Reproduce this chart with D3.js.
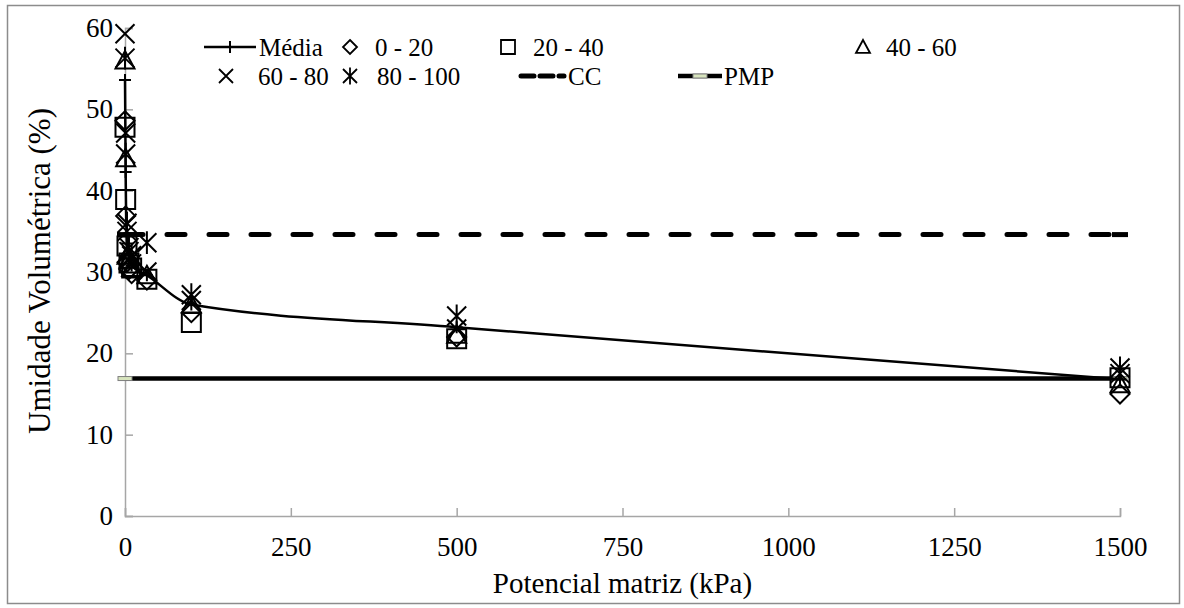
<!DOCTYPE html>
<html>
<head>
<meta charset="utf-8">
<script src="https://cdn.jsdelivr.net/npm/d3@7"></script>
</head>
<body style="margin:0">
<div id="fig"></div>
<script>
// potencial matriz (kPa)
const potencial = [0, 1, 3, 6, 10, 33, 100, 500, 1500];

// umidade volumetrica (%) per camada
const camada0_20   = [48.6, 36.9, 31.2, 30.3, 29.8, 29.0, 25.0, 22.0, 15.0];
const camada20_40  = [47.8, 38.9, 33.2, 31.1, 30.5, 29.1, 23.8, 21.8, 17.0];
const camada40_60  = [56.0, 44.0, 32.0, 31.5, 30.5, 29.6, 26.0, 22.3, 16.2];
const camada60_80  = [59.3, 47.1, 35.0, 32.5, 31.0, 30.0, 26.5, 23.0, 17.5];
const camada80_100 = [56.3, 44.5, 36.0, 33.0, 32.0, 33.6, 27.2, 24.6, 18.2];
const media        = [53.6, 42.3, 33.5, 31.7, 30.8, 29.6, 26.0, 23.2, 16.8];

// capacidade de campo / ponto de murcha
const limitesX = [0, 1500];
const cc  = [34.6, 34.6];
const pmp = [16.9, 16.9];

const xTicks = [0, 250, 500, 750, 1000, 1250, 1500];
const yTicks = [0, 10, 20, 30, 40, 50, 60];

const width = 1184, height = 608;
const margin = {top: 28, right: 64, bottom: 92, left: 125};

// serif text helper
function serif(sel, size) {
  return sel.attr("font-family", "Liberation Serif").attr("font-size", size);
}

const svg = d3.select("#fig").append("svg")
  .attr("width", width)
  .attr("height", height);

// chart frame
svg.append("rect")
  .attr("x", 7.5).attr("y", 5.5)
  .attr("width", 1172).attr("height", 598)
  .attr("fill", "none").attr("stroke", "#8c8c8c").attr("stroke-width", 1.5);

const x = d3.scaleLinear().domain([0, 1500]).range([margin.left, width - margin.right]);
const y = d3.scaleLinear().domain([0, 60]).range([height - margin.bottom, margin.top]);

// axes (gray, ticks inside)
const xAxis = svg.append("g")
  .attr("transform", "translate(0," + y(0) + ")")
  .call(d3.axisBottom(x).tickValues(xTicks).tickFormat(d3.format("d")).tickSize(-8).tickPadding(21));
const yAxis = svg.append("g")
  .attr("transform", "translate(" + x(0) + ",0)")
  .call(d3.axisLeft(y).tickValues(yTicks).tickFormat(d3.format("d")).tickSize(-8).tickPadding(12));
[xAxis, yAxis].forEach(function(g) {
  g.attr("font-family", "Liberation Serif").attr("font-size", 27);
  g.select(".domain").attr("stroke", "#a6a6a6").attr("stroke-width", 1.5);
  g.selectAll(".tick line").attr("stroke", "#a6a6a6").attr("stroke-width", 1.5);
  serif(g.selectAll(".tick text").attr("fill", "#000"), 27);
});

// axis titles
serif(svg.append("text"), 29)
  .attr("x", x(750)).attr("y", 593)
  .attr("text-anchor", "middle")
  .text("Potencial matriz (kPa)");
serif(svg.append("text"), 31)
  .attr("transform", "translate(50," + 271 + ") rotate(-90)")
  .attr("text-anchor", "middle")
  .text("Umidade Volumétrica (%)");

// marker shapes
function marker(type, s) {
  switch (type) {
    case "diamond": return `M0,${-s}L${s},0L0,${s}L${-s},0Z`;
    case "square": return `M${-s},${-s}H${s}V${s}H${-s}Z`;
    case "triangle": return `M0,${-s}L${s},${s*0.85}L${-s},${s*0.85}Z`;
    case "x": return `M${-s},${-s}L${s},${s}M${s},${-s}L${-s},${s}`;
    case "asterisk": return `M${-s},${-s}L${s},${s}M${s},${-s}L${-s},${s}M0,${-s*1.2}L0,${s*1.2}`;
    case "plus": return `M${-s},0H${s}M0,${-s}V${s}`;
  }
}

// CC and PMP lines
const limLine = d3.line().x(function(d) { return x(d[0]); }).y(function(d) { return y(d[1]); });
svg.append("path")
  .datum(d3.zip(limitesX, cc))
  .attr("d", limLine)
  .attr("fill", "none").attr("stroke", "#000").attr("stroke-width", 5)
  .attr("stroke-dasharray", "18,24").attr("stroke-linecap", "round");
svg.selectAll(".ccmark").data(d3.zip(limitesX, cc)).enter().append("rect")
  .attr("x", function(d) { return x(d[0]) - 8; }).attr("y", function(d) { return y(d[1]) - 2.5; })
  .attr("width", 16).attr("height", 5).attr("fill", "#000");
svg.append("path")
  .datum(d3.zip(limitesX, pmp))
  .attr("d", limLine)
  .attr("fill", "none").attr("stroke", "#000").attr("stroke-width", 4.5);
svg.selectAll(".pmpmark").data(d3.zip(limitesX, pmp)).enter().append("rect")
  .attr("x", function(d) { return x(d[0]) - 7; }).attr("y", function(d) { return y(d[1]) - 2; })
  .attr("width", 14).attr("height", 4)
  .attr("fill", "#d7e4bd").attr("stroke", "#7f7f7f").attr("stroke-width", 1);

// scatter series
const series = [
  {name: "0 - 20", values: camada0_20, shape: "diamond"},
  {name: "20 - 40", values: camada20_40, shape: "square"},
  {name: "40 - 60", values: camada40_60, shape: "triangle"},
  {name: "60 - 80", values: camada60_80, shape: "x"},
  {name: "80 - 100", values: camada80_100, shape: "asterisk"}
];
series.forEach(function(s) {
  svg.append("g").selectAll("path").data(s.values).enter().append("path")
    .attr("transform", function(d, i) { return "translate(" + x(potencial[i]) + "," + y(d) + ")"; })
    .attr("d", marker(s.shape, 9.5))
    .attr("fill", "none").attr("stroke", "#000").attr("stroke-width", 2);
});

// media (smoothed)
const mediaLine = d3.line()
  .x(function(d, i) { return x(potencial[i]); })
  .y(function(d) { return y(d); })
  .curve(d3.curveMonotoneX);
svg.append("path")
  .datum(media)
  .attr("d", mediaLine)
  .attr("fill", "none").attr("stroke", "#000").attr("stroke-width", 2.5);
svg.append("g").selectAll("path").data(media).enter().append("path")
  .attr("transform", function(d, i) { return "translate(" + x(potencial[i]) + "," + y(d) + ")"; })
  .attr("d", marker("plus", 6))
  .attr("fill", "none").attr("stroke", "#000").attr("stroke-width", 2);

// legend
const legend = svg.append("g");
const row1 = 47, row2 = 76;
legend.append("line").attr("x1", 204).attr("x2", 256).attr("y1", row1).attr("y2", row1)
  .attr("stroke", "#000").attr("stroke-width", 2.5);
legend.append("path").attr("transform", "translate(230," + row1 + ")").attr("d", marker("plus", 6))
  .attr("stroke", "#000").attr("stroke-width", 2);
const legendItems = [
  {label: "Média", tx: 259, ty: row1},
  {label: "0 - 20", shape: "diamond", mx: 350, tx: 375, ty: row1},
  {label: "20 - 40", shape: "square", mx: 508, tx: 533, ty: row1},
  {label: "40 - 60", shape: "triangle", mx: 863, tx: 886, ty: row1},
  {label: "60 - 80", shape: "x", mx: 226, tx: 258, ty: row2},
  {label: "80 - 100", shape: "asterisk", mx: 350, tx: 377, ty: row2},
  {label: "CC", tx: 568, ty: row2},
  {label: "PMP", tx: 724, ty: row2}
];
legendItems.forEach(function(it) {
  if (it.shape) {
    legend.append("path").attr("transform", "translate(" + it.mx + "," + it.ty + ")")
      .attr("d", marker(it.shape, 7))
      .attr("fill", "none").attr("stroke", "#000").attr("stroke-width", 1.8);
  }
  serif(legend.append("text"), 25)
    .attr("x", it.tx).attr("y", it.ty + 9)
    .text(it.label);
});
legend.append("line").attr("x1", 521).attr("x2", 564).attr("y1", row2).attr("y2", row2)
  .attr("stroke", "#000").attr("stroke-width", 5)
  .attr("stroke-dasharray", "13,6").attr("stroke-linecap", "round");
legend.append("line").attr("x1", 678).attr("x2", 722).attr("y1", row2).attr("y2", row2)
  .attr("stroke", "#000").attr("stroke-width", 4.5);
legend.append("rect").attr("x", 693).attr("y", row2 - 2).attr("width", 14).attr("height", 4)
  .attr("fill", "#d7e4bd").attr("stroke", "#7f7f7f").attr("stroke-width", 1);
</script>
</body>
</html>
